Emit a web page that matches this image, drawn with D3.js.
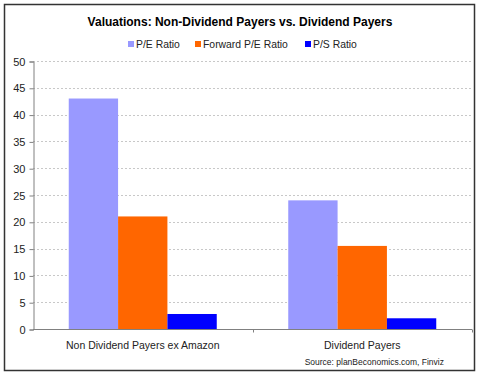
<!DOCTYPE html>
<html>
<head>
<meta charset="utf-8">
<script src="https://cdn.jsdelivr.net/npm/d3@7"></script>
<style>
  body { margin: 0; background: #fff; }
  svg { display: block; font-family: "Liberation Sans", Arial, sans-serif; }
</style>
</head>
<body>
<div id="chart"></div>
<script>
// chart data
const categories = ['Non Dividend Payers ex Amazon', 'Dividend Payers']
const seriesNames = ['P/E Ratio', 'Forward P/E Ratio', 'P/S Ratio']
const peRatio = [43, 24]
const forwardPeRatio = [21, 15.5]
const psRatio = [2.8, 2.0]
const yTicks = [0, 5, 10, 15, 20, 25, 30, 35, 40, 45, 50]
const colors = ['#9999ff', '#ff6600', '#0000ff']

const width = 480, height = 374
const plot = { left: 33, right: 472, top: 61, bottom: 329 }

const svg = d3.select('#chart').append('svg').attr('width', width).attr('height', height)

// outer frame
svg.append('rect')
  .attr('x', 4.5).attr('y', 4.5).attr('width', 470).attr('height', 366)
  .attr('fill', '#fff').attr('stroke', '#333').attr('stroke-width', 1.5)

svg.append('text')
  .attr('x', 240).attr('y', 26)
  .attr('text-anchor', 'middle')
  .style('font-size', '12px').style('font-weight', 'bold')
  .text('Valuations: Non-Dividend Payers vs. Dividend Payers')

const yscale = d3.scaleLinear().domain([0, 50]).range([plot.bottom, plot.top])
const xScale = d3.scaleBand().domain(categories).range([plot.left, plot.right])
const groupWidth = xScale.bandwidth()
const barWidth = groupWidth * 148 / 219.5 / 3
const xInner = d3.scaleBand().domain(seriesNames)
  .range([(groupWidth - barWidth * 3) / 2, (groupWidth + barWidth * 3) / 2])

// gridlines
svg.append('g').selectAll('line')
  .data(yTicks.filter(t => t > 0))
  .enter().append('line')
  .attr('x1', plot.left).attr('x2', plot.right)
  .attr('y1', d => Math.round(yscale(d)) + 0.5).attr('y2', d => Math.round(yscale(d)) + 0.5)
  .attr('stroke', '#c8c8c8').attr('stroke-dasharray', '2,2')

// bars
const rows = categories.map((c, i) => ({ category: c, values: [peRatio[i], forwardPeRatio[i], psRatio[i]] }))
const groups = svg.append('g').selectAll('g')
  .data(rows).enter().append('g')
  .attr('transform', d => 'translate(' + xScale(d.category) + ',0)')
groups.selectAll('rect')
  .data(d => d.values.map((v, j) => ({ name: seriesNames[j], value: v, color: colors[j] })))
  .enter().append('rect')
  .attr('x', d => xInner(d.name))
  .attr('width', xInner.bandwidth())
  .attr('y', d => yscale(d.value))
  .attr('height', d => plot.bottom - yscale(d.value))
  .attr('fill', d => d.color)

// y axis
const yAxis = d3.axisLeft(yscale).tickValues(yTicks).tickSize(4).tickPadding(4)
const gy = svg.append('g').attr('transform', 'translate(' + (plot.left + 0.5) + ',0.5)').call(yAxis)
gy.select('.domain').attr('stroke', '#808080')
gy.selectAll('.tick line').attr('stroke', '#808080')
gy.selectAll('.tick text').style('font-size', '11px').attr('fill', '#222').attr('font-family', null)

// x axis
const gx = svg.append('g').attr('transform', 'translate(0,' + (plot.bottom + 0.5) + ')')
gx.append('line').attr('x1', plot.left).attr('x2', plot.right).attr('stroke', '#808080')
gx.selectAll('.sep')
  .data([xScale(categories[1]), plot.right])
  .enter().append('line')
  .attr('x1', d => Math.round(d) + 0.5).attr('x2', d => Math.round(d) + 0.5)
  .attr('y1', 0).attr('y2', 3).attr('stroke', '#808080')
gx.selectAll('text')
  .data(categories).enter().append('text')
  .attr('x', d => xScale(d) + groupWidth / 2)
  .attr('y', 19)
  .attr('text-anchor', 'middle')
  .style('font-size', '10.5px').attr('fill', '#222')
  .text(d => d)

// legend
const legendX = [128, 195, 305]
const legend = svg.append('g').selectAll('g')
  .data(seriesNames).enter().append('g')
  .attr('transform', (d, i) => 'translate(' + legendX[i] + ',41)')
legend.append('rect').attr('width', 6).attr('height', 6).attr('fill', (d, i) => colors[i])
legend.append('text').attr('x', 8).attr('y', 7)
  .style('font-size', '10.4px').attr('fill', '#222')
  .text(d => d)

svg.append('text')
  .attr('x', 444).attr('y', 365)
  .attr('text-anchor', 'end')
  .style('font-size', '8.5px').attr('fill', '#222')
  .text('Source: planBeconomics.com, Finviz')
</script>
</body>
</html>
